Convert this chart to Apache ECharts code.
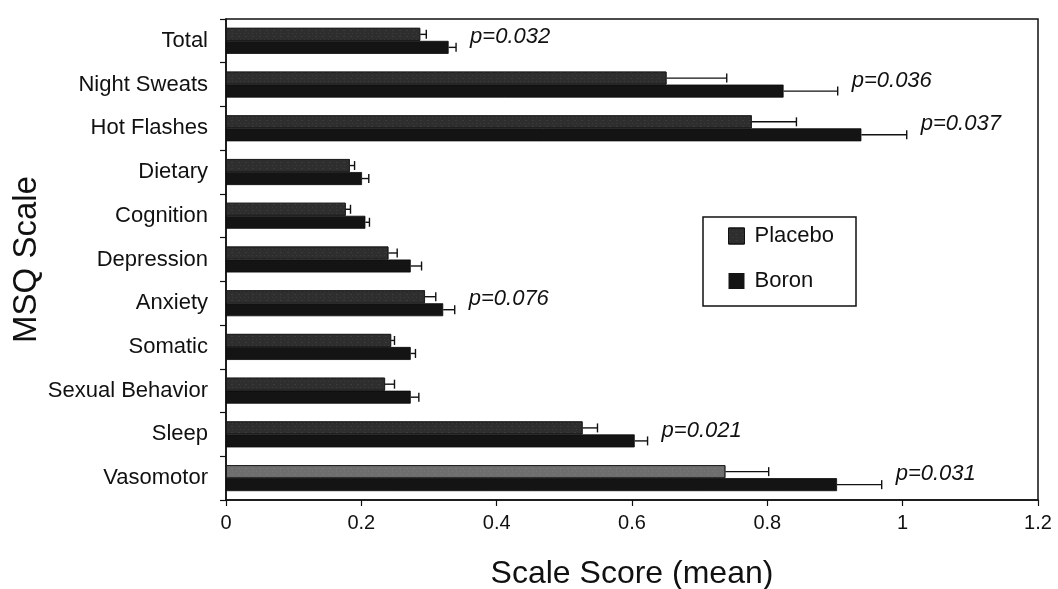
<!DOCTYPE html>
<html>
<head>
<meta charset="utf-8">
<script src="https://cdn.jsdelivr.net/npm/echarts@6/dist/echarts.min.js"></script>
<style>
html,body{margin:0;padding:0;background:#fff;}
#chart{width:1058px;height:589px;}
</style>
</head>
<body>
<div id="chart"></div>
<script>
const categories = ['Total','Night Sweats','Hot Flashes','Dietary','Cognition','Depression','Anxiety','Somatic','Sexual Behavior','Sleep','Vasomotor'];
const placebo    = [0.287, 0.651, 0.777, 0.183, 0.177, 0.240, 0.294, 0.244, 0.235, 0.527, 0.738];
const placeboErr = [0.009, 0.089, 0.066, 0.007, 0.007, 0.013, 0.016, 0.005, 0.014, 0.022, 0.064];
const boron      = [0.329, 0.824, 0.939, 0.201, 0.206, 0.273, 0.321, 0.273, 0.273, 0.604, 0.903];
const boronErr   = [0.011, 0.080, 0.067, 0.010, 0.006, 0.016, 0.017, 0.007, 0.012, 0.019, 0.066];
const pValues    = ['p=0.032','p=0.036','p=0.037','','','','p=0.076','','','p=0.021','p=0.031'];
const xTicks = [0, 0.2, 0.4, 0.6, 0.8, 1, 1.2];

const FONT = '"Liberation Sans", Arial, Helvetica, sans-serif';
const BAR_W = 13;
const PLACEBO_COLOR = '#2e2e2e';
const BORON_COLOR = '#141414';
const placeboDecal = {
  symbol: 'rect', symbolSize: 0.6,
  dashArrayX: [[1, 3], [2, 5]], dashArrayY: [1, 2],
  color: 'rgba(255,255,255,0.22)'
};

function errSeries(name, vals, errs, sign, withP) {
  return {
    type: 'custom',
    name: name,
    silent: true,
    z: 5,
    encode: { x: 1, y: 0 },
    data: categories.map((c, i) => [i, vals[i], errs[i]]),
    renderItem: function (params, api) {
      const i = api.value(0), v = api.value(1), e = api.value(2);
      const s = api.coord([v, i]);
      const t = api.coord([v + e, i]);
      const y = s[1] + sign * BAR_W / 2;
      const st = { stroke: '#111', lineWidth: 1.4 };
      const children = [
        { type: 'line', shape: { x1: s[0], y1: y, x2: t[0], y2: y }, style: st },
        { type: 'line', shape: { x1: t[0], y1: y - 4.5, x2: t[0], y2: y + 4.5 }, style: st }
      ];
      if (withP && pValues[i]) {
        children.push({
          type: 'text',
          style: {
            text: pValues[i], x: t[0] + 14, y: s[1] - 4,
            fontSize: 22, fontStyle: 'italic', fontFamily: FONT,
            fill: '#111', verticalAlign: 'middle', align: 'left'
          }
        });
      }
      return { type: 'group', children: children };
    }
  };
}

const chart = echarts.init(document.getElementById('chart'), null, { renderer: 'canvas' });
chart.setOption({
  animation: false,
  backgroundColor: '#fff',
  grid: {
    left: 226, right: 20, top: 19, bottom: 89,
    containLabel: false,
    outerBoundsMode: 'none',
    show: true, borderColor: '#111', borderWidth: 1.5, backgroundColor: 'transparent'
  },
  legend: {
    data: [
      { name: 'Placebo', icon: 'rect', itemStyle: { color: PLACEBO_COLOR, decal: placeboDecal, borderColor: '#111', borderWidth: 1 } },
      { name: 'Boron', icon: 'rect', itemStyle: { color: BORON_COLOR, borderWidth: 0 } }
    ],
    orient: 'vertical',
    left: 703, top: 217,
    padding: [8, 22, 14, 25],
    itemGap: 23,
    itemWidth: 16, itemHeight: 16,
    backgroundColor: '#fff',
    borderColor: '#111', borderWidth: 1.5,
    textStyle: { fontFamily: FONT, fontSize: 22, color: '#111', padding: [0, 0, 0, 5] }
  },
  xAxis: {
    type: 'value',
    min: 0, max: 1.2, interval: 0.2,
    name: 'Scale Score (mean)',
    nameLocation: 'middle',
    nameGap: 58,
    nameMoveOverlap: false,
    nameTextStyle: { fontFamily: FONT, fontSize: 32, color: '#111' },
    axisLine: { show: true, lineStyle: { color: '#111', width: 1.5 } },
    axisTick: { show: true, length: 6, lineStyle: { color: '#111', width: 1.2 } },
    axisLabel: {
      fontFamily: FONT, fontSize: 20, color: '#111', margin: 13,
      formatter: function (v) { return xTicks.indexOf(+v.toFixed(1)) >= 0 ? String(+v.toFixed(1)) : ''; }
    },
    splitLine: { show: false }
  },
  yAxis: {
    type: 'category',
    data: categories,
    inverse: true,
    name: 'MSQ Scale',
    nameLocation: 'middle',
    nameGap: 183,
    nameMoveOverlap: false,
    nameRotate: 90,
    nameTextStyle: { fontFamily: FONT, fontSize: 33, color: '#111' },
    axisLine: { show: true, lineStyle: { color: '#111', width: 1.5 } },
    axisTick: { show: true, length: 6, lineStyle: { color: '#111', width: 1.2 } },
    axisLabel: { fontFamily: FONT, fontSize: 22, color: '#111', margin: 18 },
    splitLine: { show: false }
  },
  series: [
    {
      name: 'Placebo',
      type: 'bar',
      data: placebo,
      barWidth: BAR_W,
      barGap: '0%',
      itemStyle: {
        color: function (p) { return p.name === 'Vasomotor' ? '#6e6e6e' : PLACEBO_COLOR; },
        borderColor: '#1a1a1a', borderWidth: 0.8,
        decal: placeboDecal
      }
    },
    {
      name: 'Boron',
      type: 'bar',
      data: boron,
      barWidth: BAR_W,
      barGap: '0%',
      itemStyle: { color: BORON_COLOR, borderColor: '#0a0a0a', borderWidth: 0.8 }
    },
    errSeries('PlaceboErr', placebo, placeboErr, -1, false),
    errSeries('BoronErr', boron, boronErr, 1, true)
  ]
});
</script>
</body>
</html>
